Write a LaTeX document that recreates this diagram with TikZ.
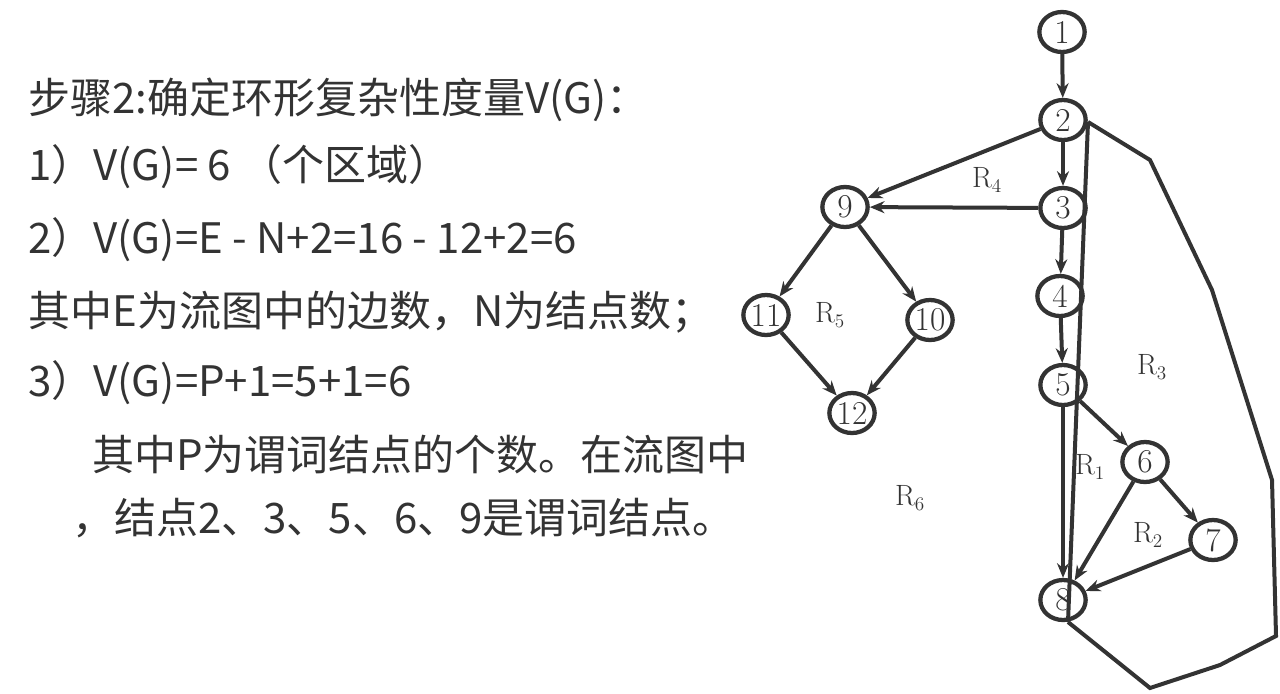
\documentclass[tikz,border=0pt]{standalone}
\usepackage{fontspec}
\newfontfamily\cjk{Noto Sans CJK SC}
\usetikzlibrary{arrows.meta,shapes.geometric}
\definecolor{ink}{HTML}{333333}
\begin{document}
\begin{tikzpicture}[x=0.75pt,y=-0.75pt,
  nd/.style={draw=ink,line width=3.2pt,ellipse,minimum width=34pt,minimum height=30pt,inner sep=0pt,font=\fontsize{25}{25}\selectfont,text=ink},
  ed/.style={draw=ink,line width=3pt,-{Stealth[length=11pt,width=9pt]}},
  pl/.style={draw=ink,line width=3pt},
  rl/.style={font=\fontsize{22}{22}\selectfont,text=ink},
  tx/.style={anchor=west,font=\cjk\fontsize{31.5}{31.5}\selectfont,text=ink,inner sep=0pt}]
\useasboundingbox (0,0) rectangle (1280,693);
\node[tx] (t1) at (28,100) {步骤2:确定环形复杂性度量V(G)：};
\node[tx] (t2) at (28,167) {1）V(G)= 6 （个区域）};
\node[tx] (t3) at (28,240) {2）V(G)=E - N+2=16 - 12+2=6};
\node[tx] (t4) at (28,312) {其中E为流图中的边数，N为结点数；};
\node[tx] (t5) at (28,383) {3）V(G)=P+1=5+1=6};
\node[tx] (t6) at (92,455) {其中P为谓词结点的个数。在流图中};
\node[tx] (t7) at (72,518) {，结点2、3、5、6、9是谓词结点。};
\node[nd] (n1) at (1062,32) {1};
\node[nd] (n2) at (1063,120) {2};
\node[nd] (n3) at (1063,208) {3};
\node[nd] (n4) at (1060,296) {4};
\node[nd] (n5) at (1063,385) {5};
\node[nd] (n6) at (1145,462) {6};
\node[nd] (n7) at (1213,540) {7};
\node[nd] (n8) at (1063,600) {8};
\node[nd] (n9) at (845,207) {9};
\node[nd] (n10) at (930,320) {10};
\node[nd] (n11) at (766,315) {11};
\node[nd] (n12) at (852,413) {12};
\draw[ed] (n1) -- (n2);
\draw[ed] (n2) -- (n3);
\draw[ed] (n3) -- (n4);
\draw[ed] (n4) -- (n5);
\draw[ed] (n5) -- (n6);
\draw[ed] (n5) -- (n8);
\draw[ed] (n6) -- (n7);
\draw[ed] (n6) -- (n8);
\draw[ed] (n7) -- (n8);
\draw[ed] (n2) -- (n9);
\draw[ed] (n3) -- (n9);
\draw[ed] (n9) -- (n11);
\draw[ed] (n9) -- (n10);
\draw[ed] (n11) -- (n12);
\draw[ed] (n10) -- (n12);
\coordinate (a) at (1088,122);
\coordinate (b) at (1068,622);
\draw[pl] (a) -- (b);
\draw[pl,line join=miter] (a) -- (1150,160) -- (1212,290) -- (1272,480) -- (1276,636) -- (1220,665) -- (1150,688) -- (b);
\node[rl] (r4) at (987,180) {R$_4$};
\node[rl] (r5) at (830,315) {R$_5$};
\node[rl] (r3) at (1152,367) {R$_3$};
\node[rl] (r1) at (1090,467) {R$_1$};
\node[rl] (r2) at (1148,535) {R$_2$};
\node[rl] (r6) at (910,498) {R$_6$};
\end{tikzpicture}
\end{document}
